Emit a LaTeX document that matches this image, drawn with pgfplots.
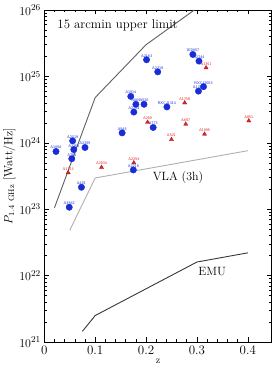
\documentclass[border=0pt]{standalone}
\usepackage{pgfplots}
\pgfplotsset{compat=1.18}
\definecolor{ptblue}{RGB}{25,45,215}
\definecolor{ptred}{RGB}{225,35,35}
\definecolor{limgray}{RGB}{95,95,95}
\definecolor{vlagray}{RGB}{175,175,175}
\definecolor{emugray}{RGB}{55,55,55}
\pgfplotstableread{
z P name
0.292 2.14e25 1E0657
0.304 1.70e25 A2744
0.201 1.78e25 A2163
0.223 1.17e25 A2219
0.313 7.0e24 RXCJ2003
0.303 6.0e24 A1300
0.170 5.0e24 A1914
0.180 3.8e24 A665
0.196 3.8e24 A520
0.241 3.47e24 RXCJ1314
0.176 2.9e24 A2254
0.214 1.70e24 A773
0.153 1.41e24 A545
0.0557 1.07e24 A2319
0.058 7.9e23 A2256
0.080 8.5e23 A2255
0.023 7.4e23 A1656
0.054 5.75e23 A754
0.175 3.9e23 A2218
0.073 2.14e23 A401
0.049 1.07e23 A3562
}\bluetab
\pgfplotstableread{
z P name
0.318 1.35e25 A1351
0.276 4.0e24 A1758
0.203 2.04e24 A209
0.278 1.91e24 A697
0.402 2.14e24 A851
0.315 1.35e24 A1995
0.250 1.12e24 A521
0.176 5.0e23 A2294
0.1125 4.27e23 A2034
0.047 3.55e23 A1213
}\redtab
\begin{document}
\begin{tikzpicture}
\begin{axis}[
  scale only axis, width=227.4pt, height=332pt,
  xmin=0, xmax=0.447, ymode=log, ymin=1e21, ymax=1e26,
  xtick={0,0.1,0.2,0.3,0.4}, minor x tick num=4,
  xticklabels={0,0.1,0.2,0.3,0.4},
  ytick={1e21,1e22,1e23,1e24,1e25,1e26},
  tick align=inside, xtick pos=both, ytick pos=both,
  major tick length=4.5pt, minor tick length=2.5pt,
  tick style={black, line width=0.5pt},
  axis line style={black, line width=0.6pt},
  ticklabel style={font=\fontsize{13}{15}\selectfont},
  xlabel={z}, xlabel style={font=\fontsize{10}{12}\selectfont, yshift=2pt},
  ylabel={$P_{1.4\ \mathrm{GHz}}$ [Watt/Hz]},
  ylabel style={font=\fontsize{12}{14}\selectfont, yshift=-3pt},
  clip=false,
]
% upper limit line
\addplot[limgray, line width=0.9pt] coordinates {(0.02,1.05e23) (0.1,4.8e24) (0.2,3.0e25) (0.295,1e26)};
% VLA line
\addplot[vlagray, line width=0.9pt] coordinates {(0.05,4.8e22) (0.1,2.95e23) (0.4,7.6e23)};
% EMU line
\addplot[emugray, line width=0.9pt] coordinates {(0.075,1.45e21) (0.1,2.5e21) (0.3,1.6e22) (0.4,2.2e22)};
\addplot[only marks, mark=*, mark size=3.2pt, color=ptblue, mark options={fill=ptblue, draw=ptblue},
  point meta=explicit symbolic, nodes near coords,
  every node near coord/.append style={font=\fontsize{3.9}{4.5}\sffamily, text=ptblue, anchor=south, inner sep=0.8pt, yshift=1.5pt}]
  table[x=z, y=P, meta=name] {\bluetab};
\addplot[only marks, mark=triangle*, mark size=2.4pt, color=ptred, mark options={fill=ptred, draw=ptred!70!black, line width=0.3pt},
  point meta=explicit symbolic, nodes near coords,
  every node near coord/.append style={font=\fontsize{3.9}{4.5}\sffamily, text=ptred, anchor=south, inner sep=0.8pt, yshift=1.5pt}]
  table[x=z, y=P, meta=name] {\redtab};
\node[anchor=west, font=\fontsize{12.8}{14}\selectfont] at (axis cs:0.019,5.9e25) {15 arcmin upper limit};
\node[font=\fontsize{12}{14}\selectfont] at (axis cs:0.263,2.95e23) {VLA (3h)};
\node[font=\fontsize{12}{14}\selectfont] at (axis cs:0.33,1.17e22) {EMU};
\end{axis}
\pgfresetboundingbox
\path (-44.3pt,-34pt) rectangle (231.7pt,342pt);
\end{tikzpicture}
\end{document}
